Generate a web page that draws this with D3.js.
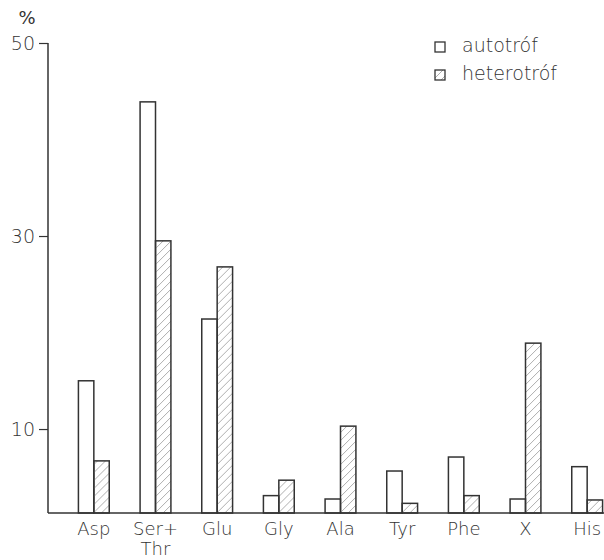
<!DOCTYPE html>
<html>
<head>
<meta charset="utf-8">
<script src="https://cdn.jsdelivr.net/npm/d3@7"></script>
<style>
  body { margin: 0; background: #fff; }
  text { font-family: "DejaVu Sans", sans-serif; font-weight: 200; fill: #333; }
</style>
</head>
<body>
<svg width="604" height="560"></svg>
<script>
// amino acid groups
var categories = ["Asp", "Ser+\nThr", "Glu", "Gly", "Ala", "Tyr", "Phe", "X", "His"];
var autotrof = [15.0, 43.9, 21.4, 3.1, 2.75, 5.65, 7.1, 2.75, 6.1];
var heterotrof = [6.7, 29.5, 26.8, 4.7, 10.3, 2.3, 3.1, 18.9, 2.65];
var series = ["autotróf", "heterotróf"];
var yTicks = [10, 30, 50];

var svg = d3.select("svg");
var ink = "#333";

// hatch pattern for heterotrof
svg.append("defs")
  .append("pattern")
  .attr("id", "hatch")
  .attr("patternUnits", "userSpaceOnUse")
  .attr("width", 8)
  .attr("height", 8)
  .append("path")
  .attr("d", "M-1,9 L9,-1 M-2,2 L2,-2 M6,10 L10,6")
  .attr("stroke", "#999")
  .attr("stroke-width", 0.8);

// axis floor sits a little above zero in the original drawing
var y = d3.scaleLinear().domain([1.3, 50]).range([513, 43]);
var x = d3.scaleBand().domain(categories).range([63, 618]).paddingInner(0.5).paddingOuter(0.25);
var xs = d3.scaleBand().domain(series).range([0, x.bandwidth()]);

var rows = categories.map(function (c, i) {
  return { cat: c, vals: [autotrof[i], heterotrof[i]] };
});

var g = svg.append("g");

g.selectAll("g.grp")
  .data(rows)
  .enter()
  .append("g")
  .attr("class", "grp")
  .attr("transform", function (d) { return "translate(" + x(d.cat) + ",0)"; })
  .selectAll("rect")
  .data(function (d) { return d.vals.map(function (v, k) { return { s: series[k], v: v }; }); })
  .enter()
  .append("rect")
  .attr("x", function (d) { return xs(d.s); })
  .attr("width", xs.bandwidth())
  .attr("y", function (d) { return y(d.v); })
  .attr("height", function (d) { return y.range()[0] - y(d.v); })
  .attr("fill", function (d) { return d.s === series[0] ? "#fff" : "url(#hatch)"; })
  .attr("stroke", ink)
  .attr("stroke-width", 1.5);

// y axis
var yAxis = d3.axisLeft(y).tickValues(yTicks).tickSize(9).tickFormat(d3.format("d"));
var ya = svg.append("g").attr("transform", "translate(48,0)").call(yAxis);
ya.select(".domain").attr("d", "M0," + y(50) + "V" + y.range()[0]).attr("stroke", ink).attr("stroke-width", 1.5);
ya.selectAll(".tick line").attr("stroke", ink).attr("stroke-width", 1.2);
ya.selectAll(".tick text")
  .attr("x", -13)
  .style("font-size", "19px")
  .style("font-family", "DejaVu Sans")
  .style("font-weight", 200)
  .attr("fill", ink);

svg.append("text").attr("x", 27).attr("y", 24).attr("text-anchor", "middle")
  .style("font-size", "18px").style("font-weight", 400).text("%");

// baseline
svg.append("line")
  .attr("x1", 48).attr("x2", 604)
  .attr("y1", y.range()[0]).attr("y2", y.range()[0])
  .attr("stroke", ink).attr("stroke-width", 1.5);

// category labels
var lab = svg.selectAll("text.cat")
  .data(categories)
  .enter()
  .append("text")
  .attr("class", "cat")
  .attr("text-anchor", "middle")
  .style("font-size", "18px")
  .attr("transform", function (d) { return "translate(" + (x(d) + x.bandwidth() / 2) + ",535)"; });
lab.selectAll("tspan")
  .data(function (d) { return d.split("\n"); })
  .enter()
  .append("tspan")
  .attr("x", 0)
  .attr("dy", function (d, i) { return i ? 20 : 0; })
  .text(function (d) { return d; });

// legend
var leg = svg.selectAll("g.leg")
  .data(series)
  .enter()
  .append("g")
  .attr("class", "leg")
  .attr("transform", function (d, i) { return "translate(435," + (42 + i * 28) + ")"; });
leg.append("rect")
  .attr("width", 10).attr("height", 10)
  .attr("fill", function (d, i) { return i ? "url(#hatch)" : "#fff"; })
  .attr("stroke", ink).attr("stroke-width", 1.3);
leg.append("text")
  .attr("x", 27).attr("y", 10)
  .style("font-size", "19px")
  .text(function (d) { return d; });
</script>
</body>
</html>
